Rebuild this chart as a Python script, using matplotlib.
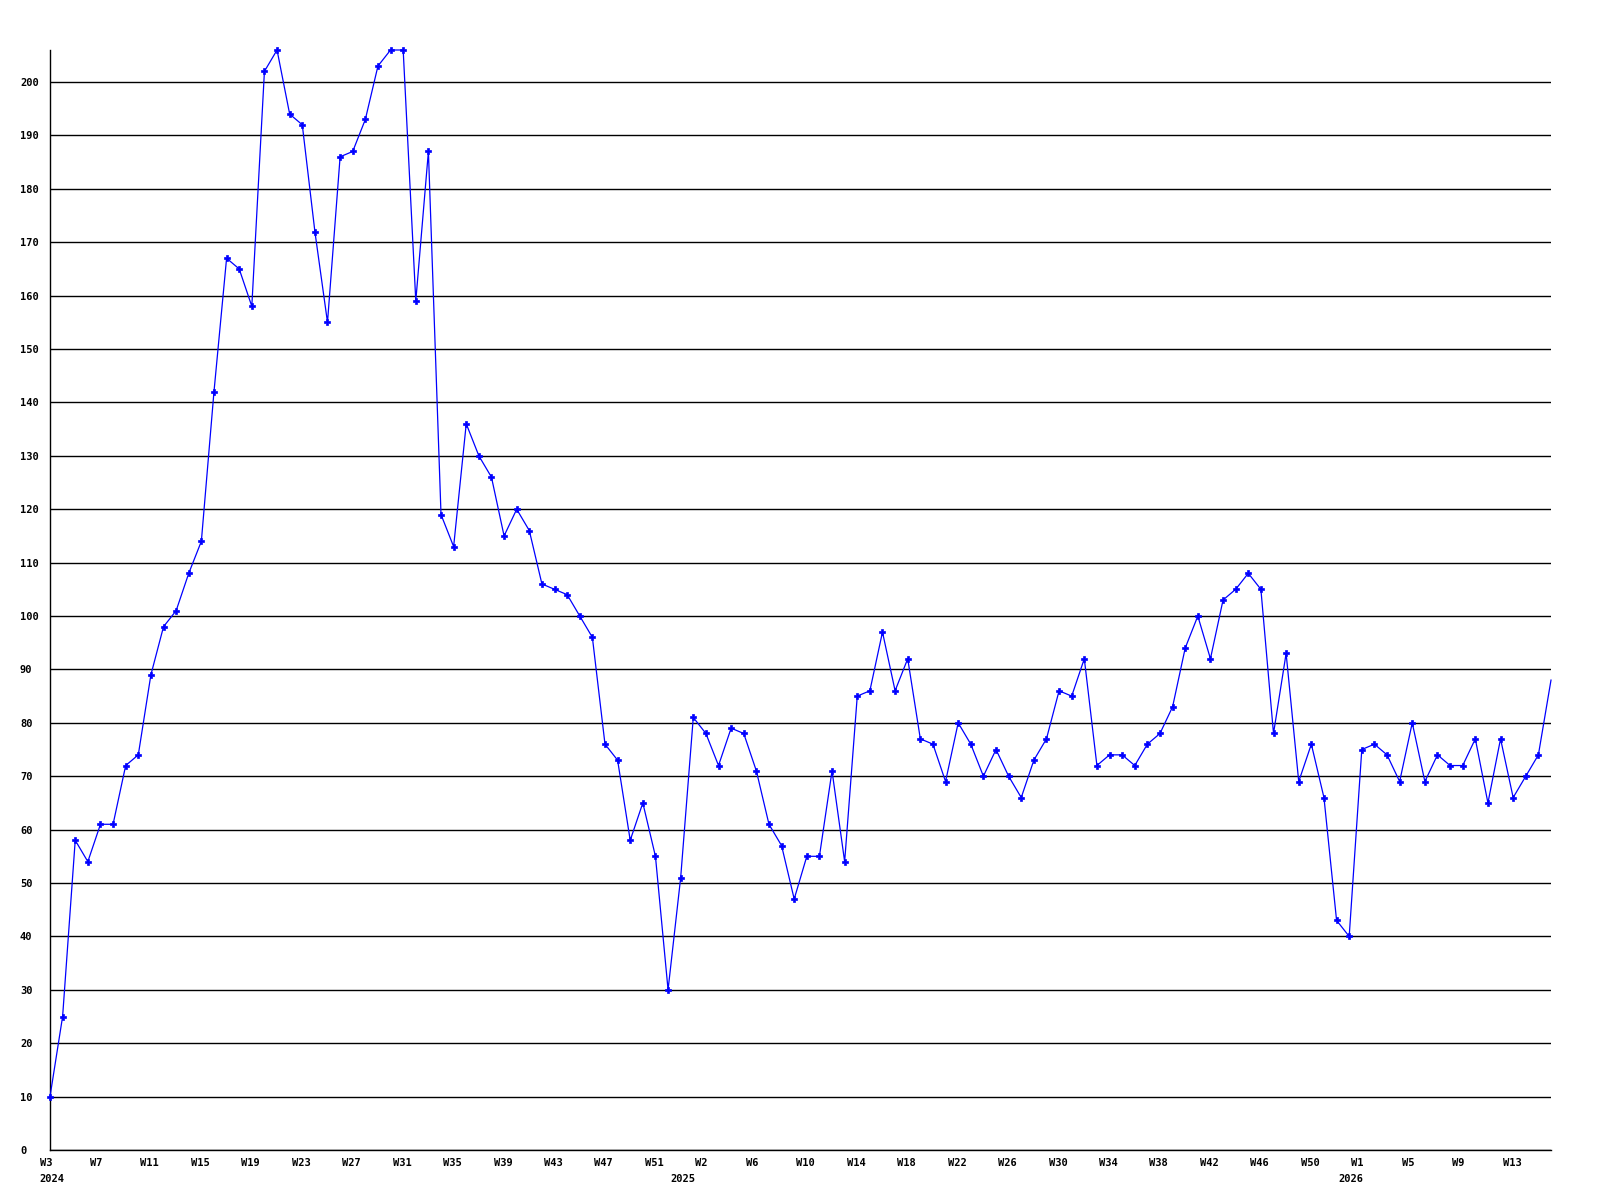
import numpy as np
import matplotlib
matplotlib.use("Agg")
import matplotlib.pyplot as plt
from matplotlib.transforms import offset_copy

# weekly values, 2024 W3 .. 2026 W16
values_2024 = [10, 25, 58, 54, 61, 61, 72, 74, 89, 98,
               101, 108, 114, 142, 167, 165, 158, 202, 206, 194,
               192, 172, 155, 186, 187, 193, 203, 206, 206, 159,
               187, 119, 113, 136, 130, 126, 115, 120, 116, 106,
               105, 104, 100, 96, 76, 73, 58, 65, 55, 30]
values_2025 = [51, 81, 78, 72, 79, 78, 71, 61, 57, 47,
               55, 55, 71, 54, 85, 86, 97, 86, 92, 77,
               76, 69, 80, 76, 70, 75, 70, 66, 73, 77,
               86, 85, 92, 72, 74, 74, 72, 76, 78, 83,
               94, 100, 92, 103, 105, 108, 105, 78, 93, 69,
               76, 66, 43]
values_2026 = [40, 75, 76, 74, 69, 80, 69, 74, 72, 72, 77, 65, 77, 66, 70, 74, 88]

weeks_2024 = list(range(3, 53))
weeks_2025 = list(range(0, 53))
weeks_2026 = list(range(0, 17))
years = ["2024", "2025", "2026"]

values = values_2024 + values_2025 + values_2026
weeks = weeks_2024 + weeks_2025 + weeks_2026
year_starts = [0, len(values_2024), len(values_2024) + len(values_2025)]

FONT = dict(family="DejaVu Sans Mono", weight="bold", size=7.5)

fig = plt.figure(figsize=(16, 12), dpi=100)
ax = fig.add_axes([50 / 1600, 50 / 1200, 1501 / 1600, 1100 / 1200])

x = np.arange(len(values))
ax.plot(x, values, color="#0000ff", lw=0.9, marker="P", ms=4.5,
        markeredgewidth=0.5, markeredgecolor="#0000ff",
        markevery=slice(0, len(values) - 1), clip_on=False, zorder=3)

ax.set_xlim(0, len(values) - 1)
ax.set_ylim(0, max(values))

# horizontal grid
ax.set_yticks(range(0, 201, 10))
ax.yaxis.grid(True, color="black", lw=1.0)
ax.set_axisbelow(True)
ax.tick_params(axis="y", length=0, pad=21.6)
for lab in ax.get_yticklabels():
    lab.set_ha("left")
    lab.set_fontfamily(FONT["family"])
    lab.set_fontweight(FONT["weight"])
    lab.set_fontsize(FONT["size"])

ax.set_xticks([])
for s in ["top", "right"]:
    ax.spines[s].set_visible(False)
for s in ["left", "bottom"]:
    ax.spines[s].set_color("black")
    ax.spines[s].set_linewidth(1.0)

# week labels every 4 weeks, year labels below
week_tr = offset_copy(ax.get_xaxis_transform(), fig=fig, x=-10.5, y=-13, units="dots")
year_tr = offset_copy(ax.get_xaxis_transform(), fig=fig, x=-10.5, y=-29, units="dots")
for i in range(0, len(values), 4):
    ax.text(i, 0, f"W{weeks[i]}", transform=week_tr, ha="left", va="center", **FONT)
for i, yr in zip(year_starts, years):
    ax.text(i, 0, yr, transform=year_tr, ha="left", va="center", **FONT)

fig.savefig("out.png", dpi=100)
